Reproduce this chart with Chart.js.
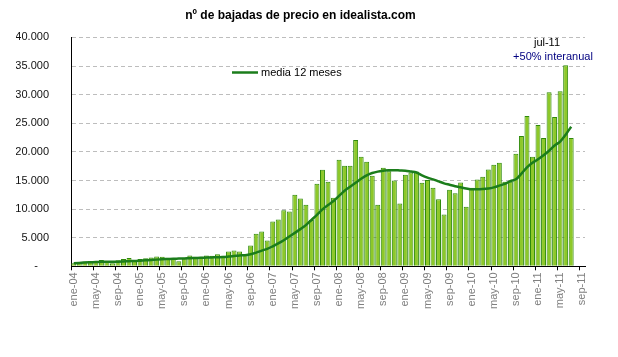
<!DOCTYPE html>
<html>
<head>
<meta charset="utf-8">
<script src="https://cdn.jsdelivr.net/npm/chart.js@4/dist/chart.umd.min.js"></script>
<style>
  html, body { margin: 0; padding: 0; background: #ffffff; }
  #wrap { width: 618px; height: 357px; position: relative; }
</style>
</head>
<body>
<div id="wrap"><canvas id="c" width="618" height="357"></canvas></div>
<script>
// ---- Data ----
const monthNames = ['ene','feb','mar','abr','may','jun','jul','ago','sep','oct','nov','dic'];
const yearLabels = ['04','05','06','07','08','09','10','11'];
const lastMonthIndex = 8; // axis runs through sep-11

// Monthly number of price drops, ene-04 .. jul-11
const bajadas = [
  520, 690, 860, 860, 860, 1100, 860, 520, 1040, 1270, 1440, 1100,
  1270, 1390, 1560, 1730, 1680, 1500, 1390, 900, 1500, 1900, 1680, 1680,
  1900, 1850, 2090, 1850, 2600, 2780, 2600, 2090, 3650, 5700, 6080, 4500,
  7850, 8170, 9780, 9570, 12520, 11830, 10780, 8110, 14430, 16870, 14780, 12000,
  18600, 17570, 17570, 22090, 19130, 18260, 15830, 10780, 17220, 16630, 15010, 10960,
  16000, 16400, 16550, 14610, 15100, 13740, 11700, 9040, 13390, 12750, 14660, 10430,
  13740, 15180, 15650, 16920, 17740, 18090, 14780, 14780, 19650, 22780, 26260, 19130,
  24690, 22430, 30430, 26090, 30610, 35130, 22430
];

// 12-month moving average as drawn
const media12 = [
  520, 600, 680, 720, 750, 800, 800, 780, 800, 850, 900, 920,
  980, 1040, 1100, 1170, 1230, 1280, 1330, 1350, 1380, 1420, 1450, 1480,
  1520, 1560, 1600, 1620, 1700, 1800, 1900, 1950, 2100, 2400, 2750, 3050,
  3500, 4000, 4550, 5200, 5850, 6500, 7200, 8100, 9000, 9950, 10700, 11400,
  12300, 13200, 13900, 14600, 15300, 15900, 16300, 16550, 16700, 16800, 16800, 16750,
  16700, 16550, 16400, 15900, 15500, 15200, 14850, 14500, 14250, 14000, 13800, 13600,
  13450, 13450, 13500, 13600, 13800, 14100, 14400, 14900, 15200, 16200, 17300, 18100,
  18700, 19400, 20200, 21100, 21800, 23000, 24400
];

const yTicks = [0, 5000, 10000, 15000, 20000, 25000, 30000, 35000, 40000];
const yTickText = ['-\u2002\u2002', '5.000', '10.000', '15.000', '20.000', '25.000', '30.000', '35.000', '40.000'];

const titleText = 'nº de bajadas de precio en idealista.com';
const legendText = 'media 12 meses';
const noteMonth = 'jul-11';
const noteText = '+50% interanual';

// ---- Build category labels ----
const categories = [];
yearLabels.forEach((y, yi) => {
  monthNames.forEach((m, mi) => {
    if (yi === yearLabels.length - 1 && mi > lastMonthIndex) return;
    categories.push(m + '-' + y);
  });
});

const FONT = 'Arial, "Liberation Sans", sans-serif';

const overlay = {
  id: 'overlay',
  afterDraw(chart) {
    const ctx = chart.ctx;
    ctx.save();
    // legend
    ctx.strokeStyle = '#1B7D1B';
    ctx.lineWidth = 2.5;
    ctx.beginPath();
    ctx.moveTo(232, 72.5);
    ctx.lineTo(258, 72.5);
    ctx.stroke();
    ctx.font = '11px ' + FONT;
    ctx.fillStyle = '#000';
    ctx.textBaseline = 'middle';
    ctx.textAlign = 'left';
    ctx.fillText(legendText, 261, 72.5);
    // annotation
    ctx.textAlign = 'center';
    ctx.fillStyle = '#000';
    ctx.fillText(noteMonth, 547, 43);
    ctx.fillStyle = '#000080';
    ctx.fillText(noteText, 553, 57);
    ctx.restore();
  }
};

new Chart(document.getElementById('c'), {
  data: {
    labels: categories,
    datasets: [
      {
        type: 'line',
        label: legendText,
        data: media12,
        borderColor: '#1B7D1B',
        borderWidth: 2.5,
        pointRadius: 0,
        tension: 0.4,
        cubicInterpolationMode: 'monotone',
        fill: false,
        order: 0
      },
      {
        type: 'bar',
        label: 'bajadas',
        data: bajadas,
        backgroundColor: '#8DC829',
        borderColor: '#2F8A0C',
        borderWidth: 1,
        barPercentage: 0.9,
        categoryPercentage: 1.0,
        order: 1
      }
    ]
  },
  options: {
    responsive: false,
    animation: false,
    devicePixelRatio: 1,
    layout: { padding: { left: 16, right: 33, top: 0, bottom: 46 } },
    plugins: {
      legend: { display: false },
      tooltip: { enabled: false },
      title: {
        display: true,
        text: titleText,
        color: '#000',
        font: { family: FONT, size: 12, weight: 'bold' },
        padding: { top: 8, bottom: 15 }
      }
    },
    scales: {
      x: {
        type: 'category',
        offset: true,
        grid: {
          offset: true,
          drawOnChartArea: false,
          drawTicks: true,
          tickLength: 4,
          color: (c) => (c.index % 4 === 0 ? '#000' : 'rgba(0,0,0,0)')
        },
        border: { display: true, color: '#000', width: 1 },
        ticks: {
          autoSkip: false,
          minRotation: 90,
          maxRotation: 90,
          padding: 2,
          color: '#808080',
          font: { family: FONT, size: 11 },
          callback: function (v, i) { return i % 4 === 0 ? this.getLabelForValue(v) : ''; }
        }
      },
      y: {
        min: 0,
        max: 40000,
        afterBuildTicks: (s) => { s.ticks = yTicks.map(v => ({ value: v })); },
        afterFit: (s) => { s.width = 55; },
        grid: {
          drawTicks: false,
          color: (c) => (c.tick && c.tick.value === 0 ? 'rgba(0,0,0,0)' : '#BDBDBD'),
          lineWidth: 1
        },
        border: { display: true, color: '#000', width: 1, dash: [4, 3] },
        ticks: {
          padding: 22,
          color: '#111',
          font: { family: FONT, size: 11 },
          callback: (v) => { const k = yTicks.indexOf(v); return k >= 0 ? yTickText[k] : ''; }
        }
      }
    }
  },
  plugins: [overlay]
});
</script>
</body>
</html>
